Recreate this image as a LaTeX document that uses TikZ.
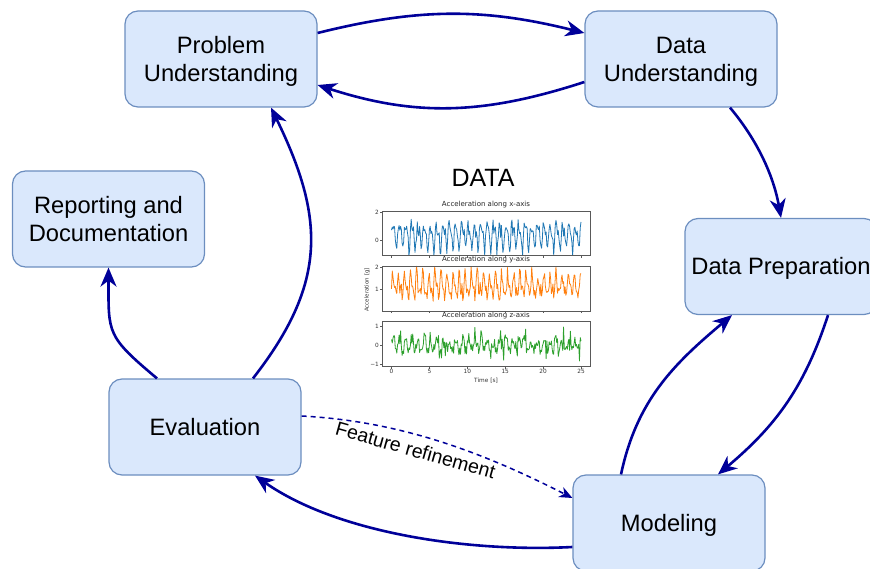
\documentclass[tikz,border=0pt]{standalone}
\usepackage{fontspec}
\setmainfont{Liberation Sans}
\newfontfamily\plotfont{DejaVu Sans}
\usetikzlibrary{arrows.meta}
\definecolor{boxfill}{HTML}{DAE8FC}
\definecolor{boxdraw}{HTML}{6C8EBF}
\definecolor{arr}{HTML}{000099}
\definecolor{mplA}{HTML}{1F77B4}
\definecolor{mplB}{HTML}{FF7F0E}
\definecolor{mplC}{HTML}{2CA02C}
\newcommand{\mystrut}{\rule[-5.7pt]{0pt}{28.4pt}}
\begin{document}
\begin{tikzpicture}[x=1pt,y=-1pt,
  phase/.style={draw=boxdraw, fill=boxfill, line width=1.2pt, rounded corners=13pt,
    minimum width=192pt, minimum height=96pt, align=center, inner sep=0pt,
    font=\fontsize{23.7}{28.4}\selectfont},
  flow/.style={draw=arr, line width=2.6pt, -{Stealth[length=19pt,width=16pt,inset=6pt]}},
  feat/.style={draw=arr, line width=1.5pt, dash pattern=on 5pt off 4pt,
    -{Stealth[length=13pt,width=11pt,inset=4pt]}},
  frame/.style={draw=black!65, line width=0.6pt},
  tick/.style={draw=black!65, line width=0.5pt},
  ticklab/.style={font=\plotfont\fontsize{5.8}{6}\selectfont, text=black!80, inner sep=0.5pt},
  axtitle/.style={font=\plotfont\fontsize{7}{8}\selectfont, text=black!85, inner sep=0pt},
  sig/.style={line width=0.8pt, line join=round}
]
\useasboundingbox (0,0) rectangle (870,569);
\clip (0,0) rectangle (870,569);

% ---------- boxes ----------
\node[phase] (pu)  at (221,59)    {\mystrut Problem\\\mystrut Understanding};
\node[phase] (du)  at (681,59)    {\mystrut Data\\\mystrut Understanding};
\node[phase] (dp)  at (781,266.5) {\mystrut Data Preparation};
\node[phase] (rd)  at (108.5,219) {\mystrut Reporting and\\\mystrut Documentation};
\node[phase] (ev)  at (205,427)   {\mystrut Evaluation};
\node[phase] (mod) at (669,523)   {\mystrut Modeling};

% ---------- central chart ----------
\node[anchor=base, inner sep=0pt, font=\fontsize{25}{30}\selectfont] (datatitle) at (483,186.5) {DATA};

\node[axtitle] (tx) at (486,204.5) {Acceleration along x-axis};
\node[axtitle] (ty) at (486,260)   {Acceleration along y-axis};
\node[axtitle] (tz) at (486,315.5) {Acceleration along z-axis};

% signals
\pgfmathsetseed{7}
\begin{scope}
  \clip (382,211) rectangle (590,255.5);
  \begin{scope}[shift={(391.5pt,-240.5pt)}, x={(7.58pt,0pt)}, y={(0pt,14pt)}]
    \draw[sig, mplA] plot[domain=0:25, samples=251]
      (\x, {0.35+0.75*sin(mod(360*\x/0.83,360))+0.4*sin(2*mod(360*\x/0.83,360)+50)+0.4*rand});
  \end{scope}
\end{scope}
\begin{scope}
  \clip (382,266) rectangle (590,311);
  \begin{scope}[shift={(391.5pt,-311.3pt)}, x={(7.58pt,0pt)}, y={(0pt,22pt)}]
    \draw[sig, mplB] plot[domain=0:25, samples=251]
      (\x, {1.15+0.4*sin(mod(360*\x/0.8,360)+20)+0.25*sin(2*mod(360*\x/0.8,360))+0.3*rand});
  \end{scope}
\end{scope}
\begin{scope}
  \clip (382,321) rectangle (590,366);
  \begin{scope}[shift={(391.5pt,-345.7pt)}, x={(7.58pt,0pt)}, y={(0pt,19pt)}]
    \draw[sig, mplC] plot[domain=0:25, samples=251]
      (\x, {0.03+0.25*sin(mod(360*\x/0.83,360))+0.12*sin(3*mod(360*\x/0.83,360))+0.2*rand+0.75*rand*abs(rand)});
  \end{scope}
\end{scope}

% frames
\draw[frame] (382,211) rectangle (590,255.5);
\draw[frame] (382,266) rectangle (590,311);
\draw[frame] (382,321) rectangle (590,366);

% y ticks
\foreach \yy/\lab in {212.5/2, 240.5/0} {
  \draw[tick] (382,\yy) -- (379.5,\yy);
  \node[ticklab, anchor=east] at (379.5,\yy) {\lab};
}
\foreach \yy/\lab in {267.3/2, 289.3/1} {
  \draw[tick] (382,\yy) -- (379.5,\yy);
  \node[ticklab, anchor=east] at (379.5,\yy) {\lab};
}
\foreach \yy/\lab in {326.7/1, 345.7/0, 364.7/−1} {
  \draw[tick] (382,\yy) -- (379.5,\yy);
  \node[ticklab, anchor=east] at (379.5,\yy) {\lab};
}
% x ticks
\foreach \k in {0,5,10,15,20,25} {
  \pgfmathsetmacro{\xx}{391.5+7.58*\k}
  \draw[tick] (\xx,255.5) -- (\xx,258);
  \draw[tick] (\xx,311) -- (\xx,313.5);
  \draw[tick] (\xx,366) -- (\xx,368.5);
  \node[ticklab, anchor=north] at (\xx,368.8) {\k};
}
\node[ticklab] (xlab) at (486,381) {Time [s]};
\node[ticklab, rotate=90, font=\plotfont\fontsize{5.5}{6}\selectfont] (ylab) at (367,290) {Acceleration [g]};

% ---------- connectors ----------
\draw[flow] ([yshift=26pt]pu.east) to[out=14,in=166] ([yshift=26pt]du.west);
\draw[flow] ([yshift=-23pt]du.west) to[out=198,in=-18] ([yshift=-26pt]pu.east);
\draw[flow] ([xshift=49pt]du.south) to[out=-50,in=100,looseness=0.9] (dp.north);
\draw[flow] ([xshift=47pt]dp.south) to[out=-108,in=40] ([xshift=49pt]mod.north);
\draw[flow] ([xshift=-48pt]mod.north) to[out=78,in=220] ([xshift=-49pt]dp.south);
\draw[flow] ([yshift=-24pt]mod.west) to[out=183,in=-35,looseness=0.8] ([xshift=50pt]ev.south);
\draw[flow] ([xshift=48pt]ev.north) to[out=52,in=-64,looseness=1.15] ([xshift=50pt]pu.south);
\draw[flow] ([xshift=-48pt]ev.north) to[out=140,in=-90,looseness=1.4] (rd.south);
\draw[feat] ([yshift=11pt]ev.east) to[out=-3,in=153,looseness=0.9]
  node[pos=0.42, sloped, below=4pt, font=\fontsize{19.5}{22}\selectfont, text=black] (fr) {Feature refinement}
  ([yshift=25pt]mod.west);
\end{tikzpicture}
\end{document}
